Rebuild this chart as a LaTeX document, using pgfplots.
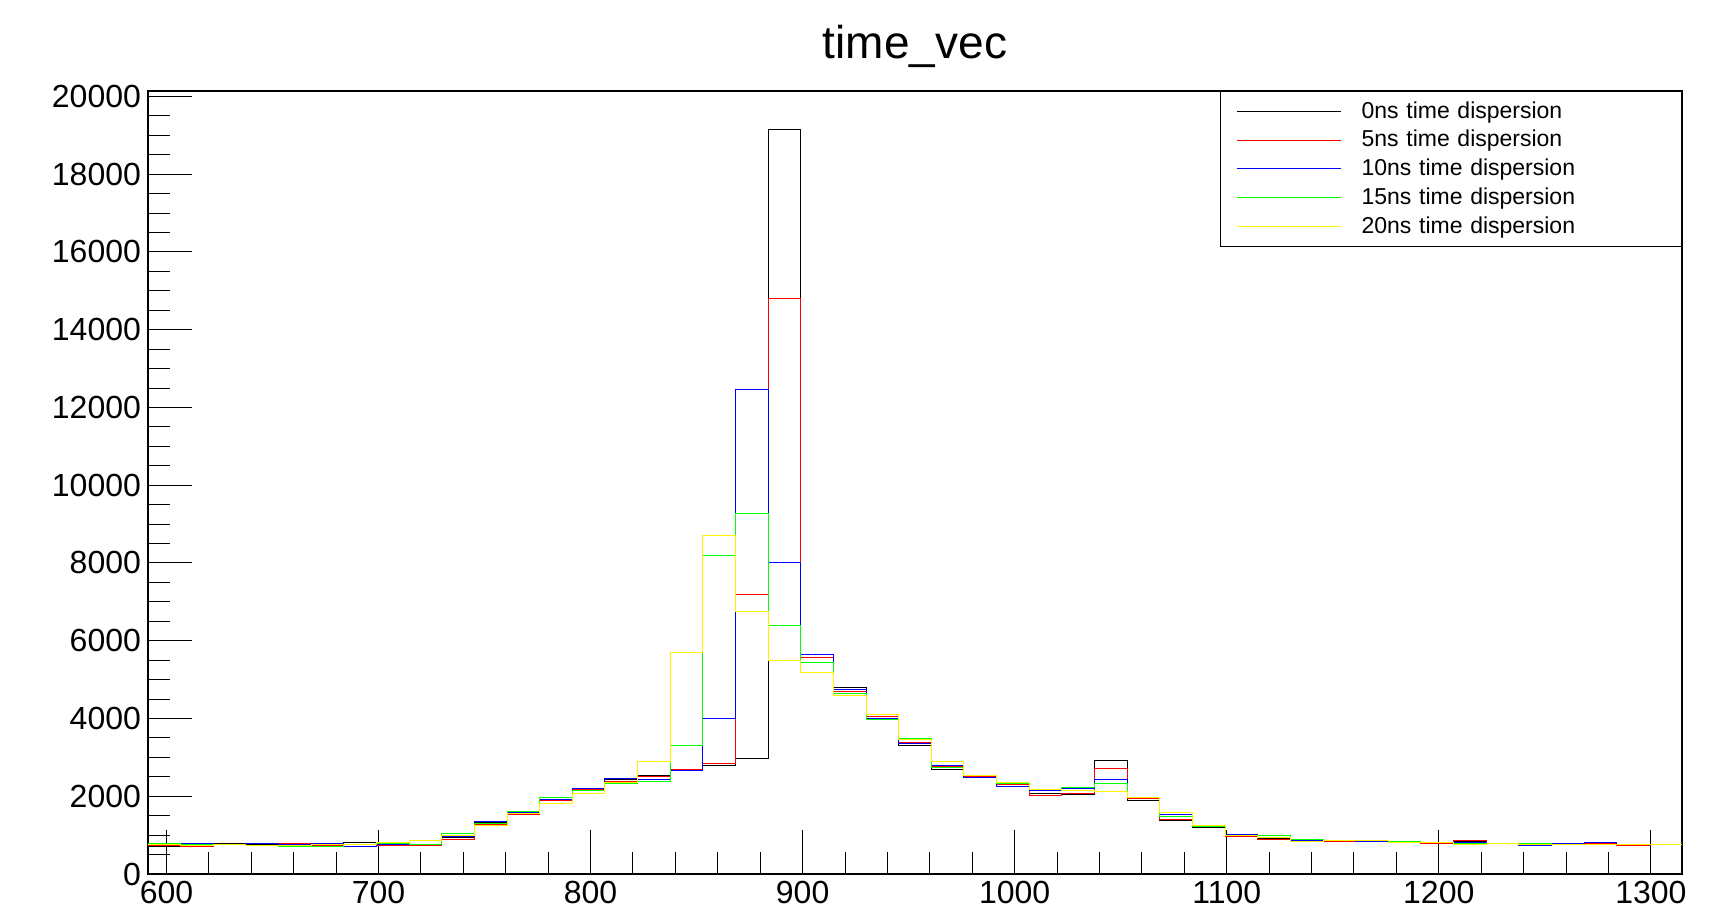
\documentclass[border=0pt]{standalone}
\usepackage{pgfplots}
\pgfplotsset{compat=1.18}
\usepackage{pgfplotstable}
\usepackage{fontspec}
\setmainfont{Liberation Sans}
\pgfplotstableread{
x k r b g y
591.3 700 740 780 790 760
606.7 760 720 790 760 740
622.1 780 770 770 770 760
637.5 760 730 780 740 740
652.9 730 780 770 720 740
668.3 730 740 780 720 760
683.7 800 750 720 760 760
699.1 760 740 760 790 800
714.5 760 740 760 770 870
729.8 950 900 960 1040 1000
745.2 1320 1270 1350 1300 1240
760.6 1570 1530 1580 1600 1560
776.0 1900 1880 1920 1960 1820
791.4 2180 2180 2200 2150 2070
806.8 2420 2380 2450 2320 2350
822.2 2540 2510 2420 2380 2900
837.6 2700 2700 2650 3300 5700
853.0 2800 2850 4000 8180 8700
868.4 2980 7200 12450 9280 6750
883.7 19150 14800 8000 6400 5500
899.1 5450 5580 5650 5450 5180
914.5 4800 4700 4750 4650 4600
929.9 4000 4050 4000 3980 4100
945.3 3300 3380 3350 3480 3450
960.7 2700 2760 2790 2750 2890
976.1 2520 2510 2480 2540 2530
991.5 2310 2290 2240 2320 2360
1006.9 2060 2030 2150 2170 2180
1022.3 2050 2080 2200 2230 2150
1037.7 2910 2710 2440 2330 2130
1053.0 1880 1930 1960 1980 1970
1068.4 1370 1400 1530 1490 1590
1083.8 1190 1210 1220 1230 1240
1099.2 1000 960 1020 1000 990
1114.6 910 890 950 980 940
1130.0 870 860 860 880 840
1145.4 860 840 860 870 860
1160.8 850 850 840 860 850
1176.2 820 820 830 830 820
1191.6 810 780 810 820 820
1207.0 840 860 800 790 750
1222.3 790 790 790 790 790
1237.7 780 780 740 780 760
1253.1 770 780 780 770 760
1268.5 780 790 800 770 760
1283.9 740 740 770 770 760
1299.3 760 760 760 770 760
1314.7 760 760 760 770 760
}\data
\begin{document}
\begin{tikzpicture}
\useasboundingbox (-74pt,-23.5pt) rectangle (781.5pt,437pt);
\begin{axis}[
  at={(0,0)}, anchor=south west,
  scale only axis, width=767pt, height=391.5pt,
  xmin=591.3, xmax=1314.7, ymin=0, ymax=20140,
  xtick={600,700,...,1300}, minor x tick num=4,
  ytick={0,2000,...,20000}, minor y tick num=3,
  scaled ticks=false,
  tick align=inside, xtick pos=bottom, ytick pos=left,
  major tick length=22pt, minor tick length=11pt,
  tick style={black, line width=0.5pt},
  /pgf/number format/assume math mode=true,
  /pgf/number format/1000 sep={},
  ticklabel style={font=\fontsize{16}{19}\selectfont},
  title={time\_vec}, title style={font=\fontsize{23}{27}\selectfont, yshift=2pt},
  axis line style={line width=0.6pt},
  legend style={at={(1,1)}, anchor=north east, font=\fontsize{11.5}{14}\selectfont,
    draw=black, row sep=0.6pt, inner xsep=8pt, inner ysep=3pt, legend cell align=left,
    nodes={text width=150pt}},
  legend image code/.code={\draw[#1] (0pt,0pt) -- (52pt,0pt); \path (60pt,0pt);},
  every axis plot/.append style={const plot mark left, line width=0.5pt, mark=none},
]
\addplot[black] table[x=x,y=k] {\data};
\addplot[red] table[x=x,y=r] {\data};
\addplot[blue] table[x=x,y=b] {\data};
\addplot[green] table[x=x,y=g] {\data};
\addplot[yellow] table[x=x,y=y] {\data};
\legend{0ns time dispersion,5ns time dispersion,10ns time dispersion,15ns time dispersion,20ns time dispersion}
\end{axis}
\end{tikzpicture}
\end{document}
